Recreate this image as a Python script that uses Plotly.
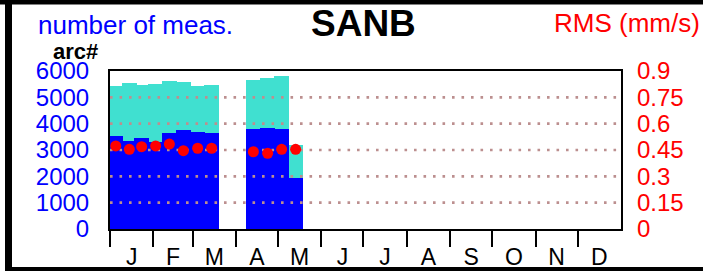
import plotly.graph_objects as go

# ---- data ----
days = [4.1, 13.8, 22.6, 32.6, 42.4, 52.4, 62.6, 72.6, 102.4, 112.6, 122.6, 132.6]
total_meas = [5440, 5530, 5480, 5490, 5610, 5580, 5440, 5470, 5660, 5745, 5800, 3190]
arc_meas = [3530, 3340, 3440, 3315, 3660, 3760, 3695, 3635, 3785, 3825, 3785, 1925]
rms = [0.473, 0.454, 0.469, 0.473, 0.484, 0.446, 0.460, 0.460, 0.440, 0.431, 0.454, 0.454]

month_starts = [0, 31, 59, 90, 120, 151, 181, 212, 243, 273, 304, 334, 365]
month_labels = ["J", "F", "M", "A", "M", "J", "J", "A", "S", "O", "N", "D"]
left_ticks = [0, 1000, 2000, 3000, 4000, 5000, 6000]
right_ticks = [0, 0.15, 0.3, 0.45, 0.6, 0.75, 0.9]
right_labels = ["0", "0.15", "0.3", "0.45", "0.6", "0.75", "0.9"]

# ---- layout geometry ----
W, H = 703, 271
L, R, T, B = 110, 82, 71, 42
PW, PH = W - L - R, H - T - B
FONT = "Arial, Liberation Sans, sans-serif"


def px(x):
    return (x - L) / PW


def py(y):
    return (H - B - y) / PH


xr = [month_starts[0], month_starts[-1]]
mids = [(a + b) / 2 for a, b in zip(month_starts[:-1], month_starts[1:])]
BAR_W = 10.5

fig = go.Figure()
fig.add_trace(go.Bar(x=days, y=total_meas, width=[BAR_W] * len(days),
                     marker=dict(color="#40E0D0", line=dict(width=0)),
                     xaxis="x", yaxis="y"))
fig.add_trace(go.Bar(x=days, y=arc_meas, width=[BAR_W] * len(days),
                     marker=dict(color="#0000FF", line=dict(width=0)),
                     xaxis="x", yaxis="y"))

# dotted grid lines drawn above the bars
gx, gy = [], []
for v in left_ticks[1:-1]:
    gx += [xr[0], xr[1], None]
    gy += [v, v, None]
fig.add_trace(go.Scatter(x=gx, y=gy, mode="lines", hoverinfo="skip",
                         line=dict(color="#BC8F8F", width=2.6, dash="2.6px,6.9px"),
                         xaxis="x", yaxis="y"))

fig.add_trace(go.Scatter(x=days, y=rms, mode="markers",
                         marker=dict(color="#FF0000", size=11, line=dict(width=0)),
                         xaxis="x2", yaxis="y2"))

fig.update_layout(
    width=W, height=H,
    margin=dict(l=L, r=R, t=T, b=B, pad=0, autoexpand=False),
    paper_bgcolor="black", plot_bgcolor="white",
    showlegend=False, barmode="overlay", bargap=0,
    font=dict(family=FONT, color="black"),
    xaxis=dict(range=xr, tickvals=month_starts[:-1], showticklabels=False,
               ticks="outside", ticklen=16, tickwidth=2, tickcolor="black",
               showgrid=False, zeroline=False, showline=True, linecolor="black",
               linewidth=2, mirror=True, fixedrange=True, automargin=False),
    xaxis2=dict(range=xr, overlaying="x", anchor="y2", side="bottom",
                tickvals=mids, ticktext=month_labels,
                ticks="outside", ticklen=7, tickcolor="rgba(0,0,0,0)",
                tickfont=dict(size=23, color="black", family=FONT),
                showgrid=False, zeroline=False, showline=False, automargin=False),
    yaxis=dict(range=[left_ticks[0], left_ticks[-1]], tickvals=left_ticks,
               tickfont=dict(size=24, color="#0000FF", family=FONT),
               ticks="", ticklabelstandoff=14,
               showgrid=False, zeroline=False, showline=True, linecolor="black",
               linewidth=2, mirror=True, automargin=False),
    yaxis2=dict(range=[right_ticks[0], right_ticks[-1]], tickvals=right_ticks,
                ticktext=right_labels, overlaying="y", side="right", anchor="x2",
                tickfont=dict(size=24, color="#FF0000", family=FONT),
                ticks="", ticklabelstandoff=15,
                showgrid=False, zeroline=False, showline=False, automargin=False),
)

ann = [
    dict(text="number of meas.", x=px(37), y=py(25), xanchor="left", yanchor="middle",
         font=dict(size=26, color="#0000FF", family=FONT)),
    dict(text="<b>SANB</b>", x=px(363), y=py(23.5), xanchor="center", yanchor="middle",
         font=dict(size=37, color="black", family=FONT)),
    dict(text="RMS (mm/s)", x=px(701), y=py(23), xanchor="right", yanchor="middle",
         font=dict(size=26, color="#FF0000", family=FONT)),
    dict(text="<b>arc#</b>", x=px(75), y=py(51), xanchor="center", yanchor="middle",
         font=dict(size=22, color="black", family=FONT)),
]
for a in ann:
    a.update(xref="paper", yref="paper", showarrow=False, borderpad=0)
fig.update_layout(annotations=ann)

# white areas inside the black paper -> black frame (left, top, bottom) remains
white = [
    (12, 4.5, W, 267),   # inner page
    (0, 4.5, 5, H),      # strip left of the frame
]
fig.update_layout(shapes=[
    dict(type="rect", xref="paper", yref="paper", layer="below",
         x0=px(a), x1=px(c), y0=py(d), y1=py(b),
         fillcolor="white", line=dict(width=0))
    for a, b, c, d in white
])

fig.write_html(
    "out.html", config={"displayModeBar": False},
    post_script=("document.documentElement.style.margin='0';"
                 "document.documentElement.style.overflow='hidden';"
                 "document.body.style.margin='0';document.body.style.padding='0';"
                 "document.body.style.overflow='hidden';"
                 "window.scrollTo(0,0);"))
